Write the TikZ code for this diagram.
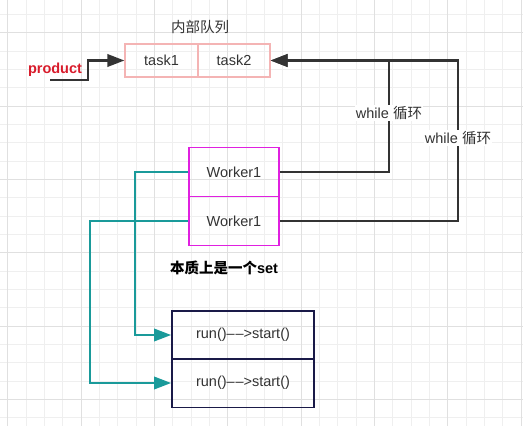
\documentclass[tikz,border=0pt]{standalone}
\usepackage{fontspec}
\setmainfont{Liberation Sans}
\newfontfamily\cjk{Noto Sans CJK SC}
\usetikzlibrary{arrows.meta}

\definecolor{gridminor}{HTML}{EFEFEF}
\definecolor{gridmajor}{HTML}{E0E0E0}
\definecolor{queuepink}{HTML}{F4B4B4}
\definecolor{workermag}{HTML}{E020E0}
\definecolor{runnavy}{HTML}{1A1A48}
\definecolor{tealline}{HTML}{1A9A9A}
\definecolor{darkline}{HTML}{333333}
\definecolor{prodred}{HTML}{D81B2B}

\begin{document}
\begin{tikzpicture}[x=1pt, y=-1pt,
    font=\fontsize{14.5}{17}\selectfont,
    queuebox/.style={draw=queuepink, line width=1.3pt, minimum height=33pt, text=black!80},
    workerbox/.style={draw=workermag, line width=1.8pt, minimum width=90pt, minimum height=49pt, text=black!80},
    runbox/.style={draw=runnavy, line width=1.8pt, minimum width=142pt, minimum height=48pt, text=black!80},
    loopline/.style={draw=darkline, line width=2.2pt, -{Triangle[length=17pt,width=12.5pt]}},
    callline/.style={draw=tealline, line width=2pt, -{Triangle[length=17pt,width=12.5pt]}},
    looplabel/.style={fill=white, inner sep=1pt, text=black!80},
    minor/.style={draw=gridminor, line width=0.7pt},
    major/.style={draw=gridmajor, line width=1pt}]

\useasboundingbox (0,0) rectangle (523,426);

% grid background
\foreach \i in {0,...,28} \draw[minor] ({7.7+18.33*\i},0) -- ++(0,426);
\foreach \i in {0,...,22} \draw[minor] (0,{14.4+18.33*\i}) -- ++(523,0);
\foreach \i in {0,...,7} \draw[major] ({7.7+73.33*\i},0) -- ++(0,426);
\foreach \i in {-1,...,5} \draw[major] (0,{32.7+73.33*\i}) -- ++(523,0);

% queue
\node[text=black!80] (title) at (200,27) {\cjk 内部队列};
\node[queuebox, minimum width=73pt] (task1) at (161.5,60.5) {task1};
\node[queuebox, minimum width=72pt] (task2) at (234,60.5) {task2};

% workers
\node[workerbox] (w1) at (234,172) {Worker1};
\node[workerbox] (w2) at (234,221) {Worker1};
\node (setnote) at (224,268) {\cjk\bfseries 本质上是一个\normalfont\bfseries set};

% run boxes
\node[runbox] (r1) at (243,335) {run()\textendash\kern0.8pt\textendash>start()};
\node[runbox, minimum height=49pt] (r2) at (243,383) {run()\textendash\kern0.8pt\textendash>start()};

% producer
\node[text=prodred, font=\fontsize{14.5}{17}\selectfont\bfseries] (prod) at (55,70) {product};
\coordinate (p0) at (50,80);
\draw[loopline] (p0) -- (88,80) -- (88,60.5) -- (task1.west);

% while loops
\draw[loopline] (w1.east) -| (389,60.5) -- (task2.east);
\draw[loopline] (w2.east) -| (458,60.5) -- (task2.east);
\node[looplabel] (loop1) at (389,113) {while {\cjk 循环}};
\node[looplabel] (loop2) at (458,138) {while {\cjk 循环}};

% worker -> run
\draw[callline] (w1.west) -| (135,335) -- (r1.west);
\draw[callline] (w2.west) -| (90,383) -- (r2.west);

\end{tikzpicture}
\end{document}
